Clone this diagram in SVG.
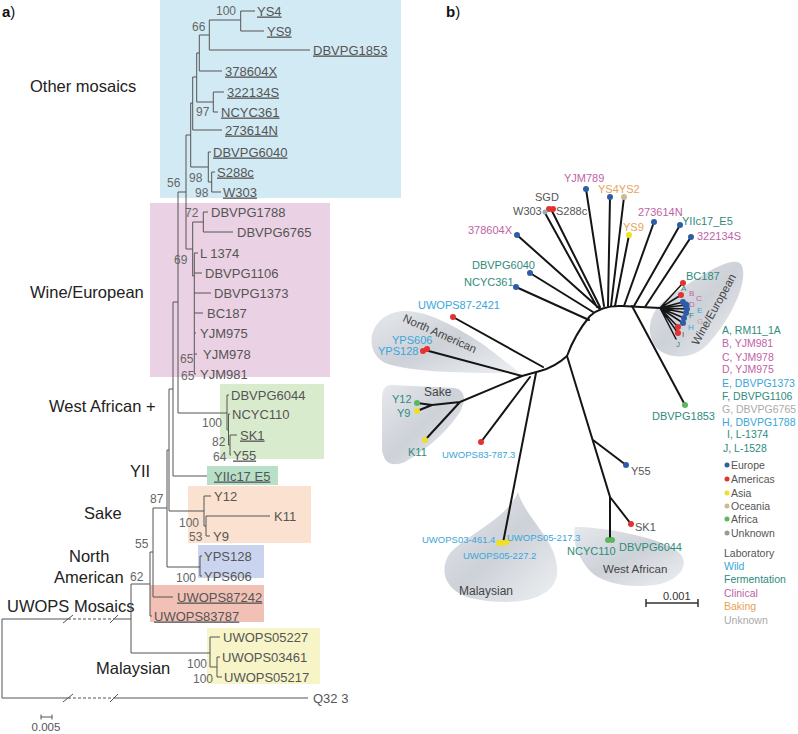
<svg xmlns="http://www.w3.org/2000/svg" width="798" height="734" viewBox="0 0 798 734">
<defs>
<style>
text{font-family:"Liberation Sans",Arial,sans-serif}
.lf{font-size:13px;fill:#555}
.u{text-decoration:underline}
.bs{font-size:12px;fill:#666}
.grp{font-size:16.5px;fill:#222}
.tl{fill:none;stroke:#555;stroke-width:1}
.rt{fill:none;stroke:#151515;stroke-width:2;stroke-linecap:round}
.rl{font-size:11px}
.sm{font-size:9.5px}
.lt{font-size:8px}
.lab{fill:#555}.wild{fill:#3aa6d8}.fer{fill:#2f8c7c}.cli{fill:#c062a6}.bak{fill:#e8a257}.unk{fill:#aaa}
.eu{fill:#2d5da8}.am{fill:#e23232}.as{fill:#efe024}.oc{fill:#cdb898}.af{fill:#5cb85c}.un{fill:#999}
.blob{fill:url(#bg)}
.lg{font-size:10.5px}
</style>
<linearGradient id="bg" x1="0" y1="0" x2="1" y2="1">
<stop offset="0" stop-color="#e6e8ec"/><stop offset="0.5" stop-color="#cdd1d8"/><stop offset="1" stop-color="#eef0f2"/>
</linearGradient>
</defs>
<rect width="798" height="734" fill="#fff"/>

<!-- panel a: clade boxes -->
<g id="boxes">
<rect x="160" y="0" width="241" height="198" fill="#d2eaf4"/>
<rect x="150" y="203" width="180" height="174" fill="#ead1e3"/>
<rect x="220" y="384" width="104" height="75" fill="#d9ebcd"/>
<rect x="207" y="466" width="71" height="19" fill="#b8dfc8"/>
<rect x="188" y="486" width="123" height="57" fill="#fbe1cf"/>
<rect x="198" y="545" width="66" height="33" fill="#cad4ee"/>
<rect x="150" y="585" width="114" height="37" fill="#f2c1b6"/>
<rect x="207" y="628" width="113" height="56" fill="#f7f4c8"/>
</g>

<text x="2" y="17" style="font-size:15px;fill:#111"><tspan font-weight="bold">a</tspan>)</text>
<text x="446" y="17" style="font-size:15px;fill:#111"><tspan font-weight="bold">b</tspan>)</text>

<g id="groups-a">
<text class="grp" x="30" y="92">Other mosaics</text>
<text class="grp" x="30" y="298">Wine/European</text>
<text class="grp" x="49" y="412">West African +</text>
<text class="grp" x="130" y="477">YII</text>
<text class="grp" x="84" y="519">Sake</text>
<text class="grp" x="69" y="562">North</text>
<text class="grp" x="54" y="583">American</text>
<text class="grp" x="7" y="612">UWOPS Mosaics</text>
<text class="grp" x="96" y="674">Malaysian</text>
</g>

<g id="connectors-a">
<path class="tl" d="M240.7,11V31M240.7,11H255M240.7,31H264M209.3,20V50M209.3,20H240.7M209.3,50H310M199.3,35V71M199.3,35H209.3M199.3,71H222M213.3,92V112M213.3,92H224M213.3,112H218M196.7,53V102M196.7,53H199.3M196.7,102H213.3M192.7,77V130M192.7,77H196.7M192.7,130H222M208.3,152V182M208.3,152H211M211.7,172V192M211.7,172H215M211.7,192H221M208.3,182H211.7M190.7,103V167M190.7,103H192.7M190.7,167H208.3M186,135V249M186,135H190.7"/>
<path class="tl" d="M186,249H192.7M192.7,222V276M192.7,222H203.3M203.3,212V232M203.3,212H208M203.3,232H233M192.7,276H194.3M194.3,253V374M194.3,253H198M194.3,273H202M194.3,293H211M194.3,313H203M194.3,333H196M194.3,354H197M194.3,374H196"/>
<path class="tl" d="M178,192H186M178,192V413M178,413H227M227,395V430M227,395H229M227,430H228.5M228.5,414V445M228.5,414H230M228.5,445H230M230,435V455M230,435H237M230,455H231M173,302H178M173,302V476M173,476H207M169,389H173M169,389V511M169,511H204M204,496V526M204,496H211M204,526H206M206,516V536M206,516H270M206,536H210M167,450H169M167,450V567M167,567H200M200,556V576M200,556H202M200,576H202M153,508H167M153,508V597M153,597H173M150,552H153M150,552V616M150,616H152M131,584H150M131,584V653M131,653H210M210,637V667M210,637H220M210,667H217M217,657V677M217,657H220M217,677H222"/>
<path class="tl" d="M2,619H68M114,619H131M2,619V698M2,698H68M114,698H308"/>
<path class="tl" d="M68,619H114M68,698H114" stroke-dasharray="3,2"/>
<path class="tl" d="M63,623L73,615M110,623L118,615M63,702L73,694M110,702L118,694"/>
<path class="tl" d="M41,717H52M41,714.5V719.5M52,714.5V719.5"/>
</g>
<text x="46" y="731" text-anchor="middle" style="font-size:11.5px;fill:#555">0.005</text>

<g id="leaves-a">
<text class="lf u" x="257" y="15.5">YS4</text>
<text class="lf u" x="267" y="35.5">YS9</text>
<text class="lf u" x="313" y="54.5">DBVPG1853</text>
<text class="lf u" x="225" y="75.5">378604X</text>
<text class="lf u" x="227" y="96.5">322134S</text>
<text class="lf u" x="221" y="116.5">NCYC361</text>
<text class="lf u" x="225" y="134.5">273614N</text>
<text class="lf u" x="213" y="156.5">DBVPG6040</text>
<text class="lf u" x="217" y="176.5">S288c</text>
<text class="lf u" x="223" y="196.5">W303</text>
<text class="lf" x="211" y="216.5">DBVPG1788</text>
<text class="lf" x="237" y="236.5">DBVPG6765</text>
<text class="lf" x="200" y="257.5">L 1374</text>
<text class="lf" x="205" y="277.5">DBVPG1106</text>
<text class="lf" x="214" y="297.5">DBVPG1373</text>
<text class="lf" x="207" y="317.5">BC187</text>
<text class="lf" x="200" y="337.5">YJM975</text>
<text class="lf" x="203" y="358.5">YJM978</text>
<text class="lf" x="200" y="378.5">YJM981</text>
<text class="lf" x="231" y="399.5">DBVPG6044</text>
<text class="lf" x="232" y="418.5">NCYC110</text>
<text class="lf u" x="240" y="439.5">SK1</text>
<text class="lf u" x="233" y="459.5">Y55</text>
<text class="lf u" x="214" y="480.5">YIIc17 E5</text>
<text class="lf" x="214" y="500.5">Y12</text>
<text class="lf" x="274" y="520.5">K11</text>
<text class="lf" x="213" y="540.5">Y9</text>
<text class="lf" x="204" y="560.5">YPS128</text>
<text class="lf" x="204" y="580.5">YPS606</text>
<text class="lf u" x="177" y="601.5">UWOPS87242</text>
<text class="lf u" x="154" y="620.5">UWOPS83787</text>
<text class="lf" x="223" y="641.5">UWOPS05227</text>
<text class="lf" x="222" y="661.5">UWOPS03461</text>
<text class="lf" x="224" y="681.5">UWOPS05217</text>
<text class="lf" x="313" y="702.5">Q32 3</text>
</g>

<g id="bootstrap-a">
<text class="bs" x="216" y="15">100</text>
<text class="bs" x="192" y="31">66</text>
<text class="bs" x="196" y="116">97</text>
<text class="bs" x="189" y="182">98</text>
<text class="bs" x="195" y="197">98</text>
<text class="bs" x="167" y="187">56</text>
<text class="bs" x="185" y="217">72</text>
<text class="bs" x="174" y="264">69</text>
<text class="bs" x="180" y="363">65</text>
<text class="bs" x="181" y="380">65</text>
<text class="bs" x="202" y="427">100</text>
<text class="bs" x="212" y="446">82</text>
<text class="bs" x="213" y="461">64</text>
<text class="bs" x="150" y="503">87</text>
<text class="bs" x="179" y="527">100</text>
<text class="bs" x="189" y="541">53</text>
<text class="bs" x="135" y="548">55</text>
<text class="bs" x="130" y="581">62</text>
<text class="bs" x="176" y="582">100</text>
<text class="bs" x="187" y="668">100</text>
<text class="bs" x="193" y="683">100</text>
</g>

<!-- panel b -->
<g id="blobs-b">
<path id="blob-na" class="blob" d="M520,373C490,373 420,374 388,364C366,356 366,326 388,315C410,304 440,318 470,336C490,348 508,364 520,373Z"/>
<path id="blob-sake" class="blob" d="M392,385L455,388Q470,392 460,412Q442,440 405,462Q385,470 382,450L382,398Q382,385 392,385Z"/>
<path id="blob-mal" class="blob" d="M518,492C526,520 560,542 557,574C554,602 510,606 475,599C445,593 438,570 450,553C470,532 506,520 518,492Z"/>
<path id="blob-wa" class="blob" d="M575,527C600,527 652,535 676,550C692,561 682,579 660,584C630,590 600,582 590,571C578,558 572,541 575,527Z"/>
<path id="blob-wine" class="blob" d="M742,266C749,285 726,326 706,346C690,361 665,359 655,346C645,330 650,312 665,300C690,282 736,250 742,266Z"/>
</g>

<g id="connectors-b">
<path class="rt" d="M660,308L622,306Q602,305 590,316Q575,334 567,356Q555,367 540,371L522,376"/>
<path class="rt" d="M517,235L600,309M545,213L597,307M551,209L600,307M586,189L604,306M610,197L608,306M624,197L611,306M629,235L615,306M654,222L624,306M680,225L634,306M691,237L645,307M530,273L593,312M516,287L589,320M632,306L685,405"/>
<path class="rt" style="stroke-width:1.5" d="M660,308L683,283M660,308L681,295M660,308L683,302M660,308L686,305M660,308L687,309M660,308L686,313M660,308L684,318M660,308L683,323M660,308L678,327M660,308L678,333M660,308L676,339"/>
<path class="rt" d="M567,356L610,497L610,540M593,440L626,465M610,497L631,524M536,373L503,543M530,377L481,442M543,367L453,317M522,376L425,350M522,376L460,402L432,405L417,403M432,405L417,411M460,402L425,440"/>
</g>

<g id="dots-b">
<circle class="eu" cx="586" cy="189" r="3"/>
<circle class="eu" cx="610" cy="197" r="3"/>
<circle class="oc" cx="624" cy="197" r="3"/>
<circle class="am" cx="549" cy="209" r="3"/>
<circle class="am" cx="553" cy="209" r="3"/>
<circle fill="#8fb0b0" cx="545" cy="212" r="2.5"/>
<circle class="eu" cx="654" cy="222" r="3"/>
<circle class="as" cx="629" cy="235" r="3"/>
<circle class="eu" cx="680" cy="225" r="3"/>
<circle class="eu" cx="691" cy="237" r="3"/>
<circle class="eu" cx="517" cy="235" r="3"/>
<circle class="eu" cx="530" cy="273" r="3"/>
<circle class="eu" cx="516" cy="287" r="3"/>
<circle class="am" cx="453" cy="317" r="3"/>
<circle class="am" cx="423" cy="351" r="3"/>
<circle class="am" cx="427" cy="349" r="3"/>
<circle class="af" cx="417" cy="403" r="3"/>
<circle class="as" cx="417" cy="411" r="3"/>
<circle class="as" cx="425" cy="440" r="3"/>
<circle class="am" cx="481" cy="442" r="3"/>
<circle class="as" cx="499" cy="543" r="3"/>
<circle class="as" cx="503" cy="543" r="3"/>
<circle class="as" cx="507" cy="542" r="3"/>
<circle class="eu" cx="626" cy="465" r="3"/>
<circle class="am" cx="631" cy="524" r="3"/>
<circle class="af" cx="608" cy="540" r="3"/>
<circle class="af" cx="612" cy="540" r="3"/>
<circle class="af" cx="685" cy="405" r="3"/>
<circle class="am" cx="683" cy="283" r="3"/>
<circle class="am" cx="681" cy="295" r="3"/>
<circle class="eu" cx="683" cy="302" r="3"/>
<circle class="eu" cx="686" cy="305" r="3.5"/>
<circle class="eu" cx="687" cy="309" r="3"/>
<circle class="eu" cx="686" cy="313" r="3"/>
<circle class="eu" cx="684" cy="318" r="3"/>
<circle class="eu" cx="683" cy="323" r="3"/>
<circle class="am" cx="678" cy="327" r="3"/>
<circle class="am" cx="678" cy="333" r="3"/>
</g>

<g id="labels-b">
<text class="rl cli" x="564" y="182">YJM789</text>
<text class="rl bak" x="598" y="193">YS4YS2</text>
<text class="rl lab" x="535" y="201">SGD</text>
<text class="rl lab" x="513" y="215">W303</text>
<text class="rl lab" x="556" y="215">S288c</text>
<text class="rl cli" x="638" y="216">273614N</text>
<text class="rl bak" x="623" y="231">YS9</text>
<text class="rl fer" x="682" y="225">YIIc17_E5</text>
<text class="rl cli" x="697" y="240">322134S</text>
<text class="rl cli" x="468" y="234">378604X</text>
<text class="rl fer" x="472" y="269">DBVPG6040</text>
<text class="rl fer" x="464" y="286">NCYC361</text>
<text class="rl wild" x="418" y="309">UWOPS87-2421</text>
<text class="rl wild" x="392" y="344">YPS606</text>
<text class="rl wild" x="378" y="355">YPS128</text>
<text class="rl fer" x="392" y="403">Y12</text>
<text class="rl fer" x="397" y="417">Y9</text>
<text class="rl fer" x="408" y="456">K11</text>
<text class="sm wild" x="442" y="458">UWOPS83-787.3</text>
<text class="rl lab" x="631" y="475">Y55</text>
<text class="rl lab" x="635" y="531">SK1</text>
<text class="sm wild" x="422" y="543">UWOPS03-461.4</text>
<text class="sm wild" x="507" y="541">UWOPS05-217.3</text>
<text class="sm wild" x="463" y="559">UWOPS05-227.2</text>
<text class="rl fer" x="567" y="555">NCYC110</text>
<text class="rl fer" x="619" y="551">DBVPG6044</text>
<text class="rl fer" x="652" y="420">DBVPG1853</text>
<text class="rl fer" x="686" y="280">BC187</text>
<text class="lt fer" x="681" y="291">A</text>
<text class="lt cli" x="689" y="296">B</text>
<text class="lt cli" x="696" y="301">C</text>
<text class="lt cli" x="689" y="307">D</text>
<text class="lt wild" x="697" y="313">E</text>
<text class="lt fer" x="689" y="318">F</text>
<text class="lt unk" x="697" y="324">G</text>
<text class="lt wild" x="688" y="330">H</text>
<text class="lt lab" x="682" y="337">I</text>
<text class="lt fer" x="676" y="347">J</text>
</g>

<g id="clade-labels-b">
<text x="402" y="321" transform="rotate(24 402 321)" style="font-size:11.5px;fill:#444">North American</text>
<text x="424" y="396" style="font-size:12px;fill:#444">Sake</text>
<text x="459" y="595" style="font-size:12px;fill:#444">Malaysian</text>
<text x="603" y="573" style="font-size:11.5px;fill:#444">West African</text>
<text transform="translate(698,346) rotate(-61)" style="font-size:11.5px;fill:#444">Wine/European</text>
</g>

<g id="scale-b">
<path d="M646,603H698M646,599V607M698,599V607" stroke="#333" stroke-width="1.5" fill="none"/>
<text x="663" y="600" style="font-size:11px;fill:#333">0.001</text>
</g>

<g id="legend-b">
<text class="lg fer" x="722" y="334">A, RM11_1A</text>
<text class="lg cli" x="722" y="347">B, YJM981</text>
<text class="lg cli" x="722" y="361">C, YJM978</text>
<text class="lg cli" x="722" y="373">D, YJM975</text>
<text class="lg wild" x="722" y="387">E, DBVPG1373</text>
<text class="lg fer" x="722" y="400">F, DBVPG1106</text>
<text class="lg unk" x="722" y="413">G, DBVPG6765</text>
<text class="lg wild" x="722" y="426">H, DBVPG1788</text>
<text class="lg fer" x="727" y="438">I, L-1374</text>
<text class="lg fer" x="723" y="452">J, L-1528</text>
<circle class="eu" cx="727" cy="465" r="2.5"/><text class="lg lab" x="731" y="469">Europe</text>
<circle class="am" cx="727" cy="479" r="2.5"/><text class="lg lab" x="731" y="483">Americas</text>
<circle class="as" cx="727" cy="493" r="2.5"/><text class="lg lab" x="731" y="497">Asia</text>
<circle class="oc" cx="727" cy="506" r="2.5"/><text class="lg lab" x="731" y="510">Oceania</text>
<circle class="af" cx="727" cy="519" r="2.5"/><text class="lg lab" x="731" y="523">Africa</text>
<circle class="un" cx="727" cy="533" r="2.5"/><text class="lg lab" x="731" y="537">Unknown</text>
<text class="lg lab" x="724" y="557">Laboratory</text>
<text class="lg wild" x="724" y="570">Wild</text>
<text class="lg fer" x="724" y="583">Fermentation</text>
<text class="lg cli" x="724" y="597">Clinical</text>
<text class="lg bak" x="724" y="610">Baking</text>
<text class="lg unk" x="724" y="624">Unknown</text>
</g>
</svg>
